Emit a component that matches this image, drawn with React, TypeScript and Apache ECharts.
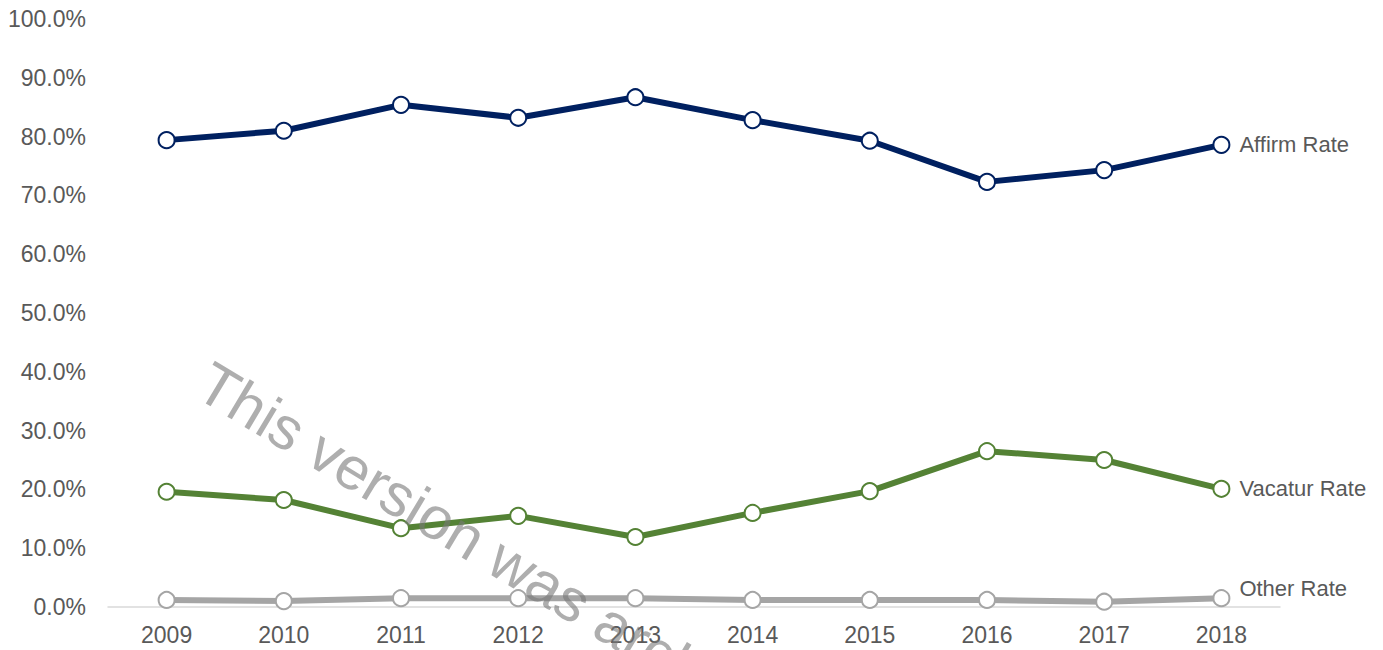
import React, { useEffect, useRef } from "react";
import * as echarts from "echarts";

const years = ["2009", "2010", "2011", "2012", "2013", "2014", "2015", "2016", "2017", "2018"];
const affirmRate = [79.4, 81.0, 85.4, 83.2, 86.7, 82.8, 79.3, 72.3, 74.3, 78.6];
const vacaturRate = [19.6, 18.2, 13.4, 15.5, 11.9, 16.0, 19.7, 26.5, 25.0, 20.1];
const otherRate = [1.2, 1.0, 1.5, 1.5, 1.5, 1.2, 1.2, 1.2, 0.9, 1.5];
const seriesNames = ["Affirm Rate", "Vacatur Rate", "Other Rate"];
const seriesColors = ["#002060", "#548235", "#a5a5a5"];
const watermark = "This version was archived";

const FONT = "'Liberation Sans', Arial, sans-serif";

export default function App() {
  const ref = useRef<HTMLDivElement>(null);
  useEffect(() => {
    if (!ref.current) return;
    const chart = echarts.init(ref.current, undefined, { renderer: "svg" });
    const data = [affirmRate, vacaturRate, otherRate];
    chart.setOption({
      animation: false,
      grid: { left: 108, right: 103, top: 19, bottom: 43 },
      xAxis: {
        type: "category",
        data: years,
        boundaryGap: true,
        axisLine: { show: true, lineStyle: { color: "#d9d9d9", width: 1.5 } },
        axisTick: { show: false },
        axisLabel: { color: "#595959", fontSize: 23, fontFamily: FONT, margin: 16 },
      },
      yAxis: {
        type: "value",
        min: 0,
        max: 100,
        interval: 10,
        splitLine: { show: false },
        axisLine: { show: false },
        axisTick: { show: false },
        axisLabel: {
          color: "#595959",
          fontSize: 23,
          fontFamily: FONT,
          margin: 22,
          formatter: (v: number) => v.toFixed(1) + "%",
        },
      },
      series: data.map((d, i) => ({
        name: seriesNames[i],
        type: "line",
        data: d,
        symbol: "circle",
        symbolSize: 16,
        showAllSymbol: true,
        lineStyle: { color: seriesColors[i], width: 6 },
        itemStyle: { color: "#ffffff", borderColor: seriesColors[i], borderWidth: 2 },
        z: 3 - i + 2,
        endLabel: {
          show: true,
          formatter: seriesNames[i],
          color: "#595959",
          fontSize: 22,
          fontFamily: FONT,
          distance: 18,
          offset: [0, i === 2 ? -10 : 0],
        },
      })),
      graphic: [
        {
          type: "text",
          x: 203,
          y: 378,
          rotation: -31 * Math.PI / 180,
          z: 100,
          style: {
            text: watermark,
            fontSize: 60,
            fontFamily: FONT,
            verticalAlign: "middle",
            fill: "rgba(120,120,120,0.6)",
          },
        },
      ],
    });
    return () => chart.dispose();
  }, []);
  return <div ref={ref} style={{ width: 1383, height: 650, position: "absolute", left: 0, top: 0 }} />;
}
